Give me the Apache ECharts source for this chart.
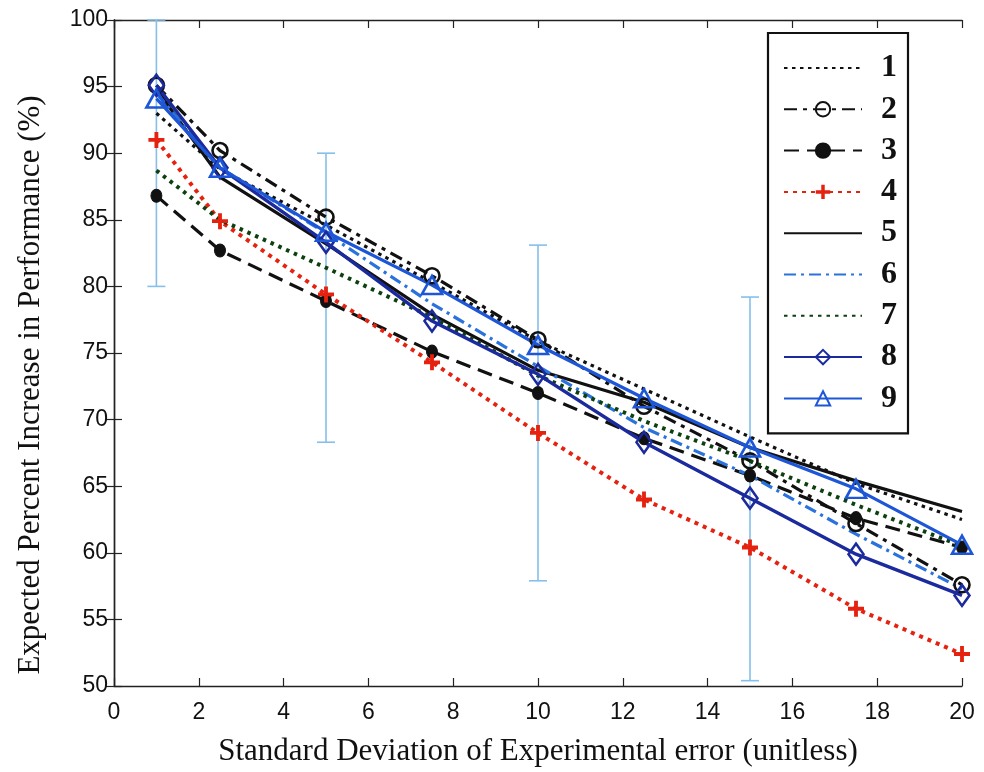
<!DOCTYPE html>
<html>
<head>
<meta charset="utf-8">
<script src="https://cdn.jsdelivr.net/npm/echarts@6/dist/echarts.min.js"></script>
<style>
  html, body { margin: 0; padding: 0; background: #fff; }
  #chart { width: 984px; height: 772px; }
</style>
</head>
<body>
<div id="chart"></div>
<script>
// Standard deviation of the experimental error (x positions of every curve)
const sigma = [1, 2.5, 5, 7.5, 10, 12.5, 15, 17.5, 20];

// Expected percent increase in performance, one array per curve
const curve1 = [93.0, 88.8, 84.6, 80.3, 75.9, 72.3, 68.7, 65.2, 62.5];
const curve2 = [95.1, 90.2, 85.2, 80.8, 76.0, 71.0, 66.9, 62.2, 57.6];
const curve3 = [86.8, 82.7, 78.9, 75.1, 72.0, 68.6, 65.8, 62.6, 60.4];
const curve4 = [91.0, 84.9, 79.4, 74.3, 69.0, 64.0, 60.4, 55.8, 52.4];
const curve5 = [94.8, 88.2, 83.2, 77.9, 73.7, 71.3, 67.9, 65.4, 63.1];
const curve6 = [94.5, 88.9, 84.0, 78.7, 74.0, 69.4, 65.8, 61.4, 57.3];
const curve7 = [88.7, 85.0, 81.4, 77.7, 73.3, 69.9, 66.9, 63.6, 60.5];
const curve8 = [95.1, 88.9, 83.3, 77.4, 73.4, 68.3, 64.1, 59.9, 56.8];
const curve9 = [94.1, 88.9, 84.1, 80.1, 75.6, 71.6, 67.9, 64.8, 60.6];

// Error bars: position, lower end, upper end
const errX = [1, 5, 10, 15];
const errLow = [80.0, 68.3, 57.9, 50.4];
const errHigh = [100.0, 90.0, 83.1, 79.2];

// Axis ticks
const xTicks = [0, 2, 4, 6, 8, 10, 12, 14, 16, 18, 20];
const yTicks = [50, 55, 60, 65, 70, 75, 80, 85, 90, 95, 100];

const seriesNames = ['1', '2', '3', '4', '5', '6', '7', '8', '9'];
// curves drawn as plain lines (no marker in the legend either)
const plainCurves = ['1', '5', '6', '7'];

const pair = (ys) => sigma.map((x, i) => [x, ys[i]]);
const plusPath = 'path://M-1.2,-5H1.2V-1.2H5V1.2H1.2V5H-1.2V1.2H-5V-1.2H-1.2Z';

function lineSeries(name, ys, line, marker) {
  const s = {
    name: name,
    type: 'line',
    data: pair(ys),
    lineStyle: line,
    symbol: 'none',
    animation: false,
    silent: true
  };
  if (marker) {
    s.symbol = marker.symbol;
    s.symbolSize = marker.size;
    s.showSymbol = true;
    s.itemStyle = marker.style;
  } else {
    s.itemStyle = { color: line.color };
  }
  return s;
}

const series = [
  {
    type: 'custom',
    name: 'err',
    z: 1,
    silent: true,
    animation: false,
    data: errX.map((x, i) => [x, errLow[i], errHigh[i]]),
    renderItem: function (params, api) {
      const lo = api.coord([api.value(0), api.value(1)]);
      const hi = api.coord([api.value(0), api.value(2)]);
      const w = 9;
      const st = { stroke: '#86bfea', lineWidth: 1.6 };
      return {
        type: 'group',
        children: [
          { type: 'line', shape: { x1: lo[0], y1: lo[1], x2: hi[0], y2: hi[1] }, style: st },
          { type: 'line', shape: { x1: lo[0] - w, y1: lo[1], x2: lo[0] + w, y2: lo[1] }, style: st },
          { type: 'line', shape: { x1: hi[0] - w, y1: hi[1], x2: hi[0] + w, y2: hi[1] }, style: st }
        ]
      };
    }
  },
  lineSeries('1', curve1, { color: '#111', width: 3.2, type: [3.5, 4.5] }),
  lineSeries('2', curve2, { color: '#111', width: 3.2, type: [13, 6, 4, 6] },
    { symbol: 'circle', size: 15, style: { color: 'rgba(255,255,255,0)', borderColor: '#111', borderWidth: 2.6 } }),
  lineSeries('3', curve3, { color: '#111', width: 3.2, type: [15, 8] },
    { symbol: 'circle', size: [11, 13], style: { color: '#111', borderColor: '#111', borderWidth: 1 } }),
  lineSeries('4', curve4, { color: '#e5220f', width: 4, type: [4, 5] },
    { symbol: plusPath, size: 16, style: { color: '#e5220f', borderWidth: 0 } }),
  lineSeries('5', curve5, { color: '#111', width: 3.2, type: 'solid' }),
  lineSeries('6', curve6, { color: '#2a72dc', width: 3.2, type: [12, 5, 3, 5] }),
  lineSeries('7', curve7, { color: '#0d400f', width: 4, type: [3.5, 5] }),
  lineSeries('8', curve8, { color: '#1b2a9c', width: 3.4, type: 'solid' },
    { symbol: 'diamond', size: [15, 21], style: { color: 'rgba(255,255,255,0)', borderColor: '#1b2a9c', borderWidth: 2.6 } }),
  lineSeries('9', curve9, { color: '#1d56d6', width: 3.2, type: 'solid' },
    { symbol: 'triangle', size: [20, 18], style: { color: 'rgba(255,255,255,0)', borderColor: '#1d56d6', borderWidth: 2.6 } })
];

const tickLen = 8;
const axisCommon = {
  type: 'value',
  axisLine: { show: true, lineStyle: { color: '#222', width: 1.4 } },
  axisTick: { show: true, inside: true, length: tickLen, lineStyle: { color: '#222', width: 1.2 } },
  splitLine: { show: false }
};

const option = {
  backgroundColor: '#fff',
  animation: false,
  grid: { left: 114, right: 22, top: 20, bottom: 86, containLabel: false },
  xAxis: [
    Object.assign({}, axisCommon, {
      min: xTicks[0], max: xTicks[xTicks.length - 1], interval: 2,
      position: 'bottom',
      axisLabel: { show: true, margin: 15, fontFamily: 'Liberation Sans', fontSize: 23, color: '#111' },
      name: 'Standard Deviation of Experimental error (unitless)',
      nameLocation: 'middle',
      nameGap: 50,
      nameTextStyle: { fontFamily: 'Liberation Serif', fontSize: 31, color: '#111' }
    }),
    Object.assign({}, axisCommon, {
      min: xTicks[0], max: xTicks[xTicks.length - 1], interval: 2,
      position: 'top',
      axisLabel: { show: false }
    })
  ],
  yAxis: [
    Object.assign({}, axisCommon, {
      min: yTicks[0], max: yTicks[yTicks.length - 1], interval: 5,
      position: 'left',
      axisLabel: { show: true, margin: 6, fontFamily: 'Liberation Sans', fontSize: 23, color: '#111' },
      name: 'Expected Percent Increase in Performance (%)',
      nameLocation: 'middle',
      nameGap: 68,
      nameTextStyle: { fontFamily: 'Liberation Serif', fontSize: 31, color: '#111', padding: [0, 64, 0, 0] }
    }),
    Object.assign({}, axisCommon, {
      min: yTicks[0], max: yTicks[yTicks.length - 1], interval: 5,
      position: 'right',
      axisLabel: { show: false }
    })
  ],
  legend: {
    data: seriesNames.map((n) => plainCurves.indexOf(n) >= 0
      ? { name: n, itemStyle: { opacity: 0 } }
      : { name: n }),
    orient: 'vertical',
    left: 768,
    top: 33,
    itemWidth: 78,
    itemHeight: 18,
    itemGap: 9.3,
    padding: [19, 11, 19, 15],
    borderColor: '#111',
    borderWidth: 2.2,
    backgroundColor: '#fff',
    selectedMode: false,
    textStyle: {
      fontFamily: 'Liberation Serif',
      fontWeight: 'bold',
      fontSize: 32,
      lineHeight: 32,
      color: '#111',
      padding: [0, 0, 0, 14]
    }
  },
  series: series
};

const chart = echarts.init(document.getElementById('chart'), null, { renderer: 'canvas' });
chart.setOption(option);
</script>
</body>
</html>
